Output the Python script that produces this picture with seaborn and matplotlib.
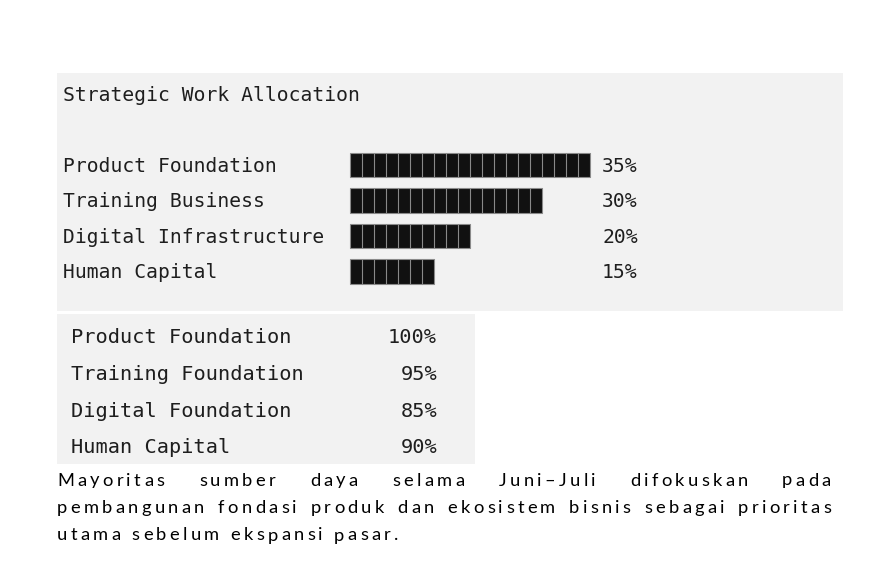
import numpy as np
import pandas as pd
import matplotlib
matplotlib.use("Agg")
import matplotlib.pyplot as plt
import matplotlib.transforms as mtransforms
from matplotlib import font_manager, ft2font
from matplotlib.font_manager import FontProperties
import seaborn as sns

# --- data ---
title = "Strategic Work Allocation"
alloc_labels = ["Product Foundation", "Training Business", "Digital Infrastructure", "Human Capital"]
alloc_pct = [35, 30, 20, 15]
alloc_blocks = [20, 16, 10, 7]   # number of block characters in each text bar

progress_labels = ["Product Foundation", "Training Foundation", "Digital Foundation", "Human Capital"]
progress_pct = [100, 95, 85, 90]

note_lines = ["Mayoritas sumber daya selama Juni\u2013Juli difokuskan pada",
              "pembangunan fondasi produk dan ekosistem bisnis sebagai prioritas",
              "utama sebelum ekspansi pasar."]

W, H = 886, 582
sns.set_style("white")
plt.rcParams["font.family"] = ["DejaVu Sans Mono", "DejaVu Sans"]
fig = plt.figure(figsize=(W / 100, H / 100), dpi=100)
fig.patch.set_facecolor("white")

def box(x0, y0, x1, y1):
    return [x0 / W, 1 - y1 / H, (x1 - x0) / W, (y1 - y0) / H]

def fx(px):
    return px / W

def fy(py):
    return 1 - py / H

def clean(a):
    for s in a.spines.values():
        s.set_visible(False)
    a.set_xticks([])
    a.set_yticks([])
    a.set_xlabel("")
    a.set_ylabel("")

mono = "#1e1e1e"

# --- allocation panel ---
ax = fig.add_axes(box(57, 73, 843, 311))
ax.set_facecolor("#f2f2f2")
df = pd.DataFrame({"task": alloc_labels, "blocks": alloc_blocks})
bw = 0.684
sns.barplot(data=df, x="blocks", y="task", orient="h", color="#111111",
            saturation=1, width=bw, edgecolor="#8a8a8a", linewidth=0.8, ax=ax)
for i, n in enumerate(alloc_blocks):
    ax.vlines(np.arange(1, n), i - bw / 2, i + bw / 2, colors="#8a8a8a", lw=0.8)
cell = 12.0
row = 35.53
ax.set_xlim(-(350 - 57) / cell, (843 - 350) / cell)
ax.set_ylim(3 + (311 - 271.5) / row, -(164.9 - 73) / row)
clean(ax)

tr = mtransforms.blended_transform_factory(fig.transFigure, ax.transData)
fig.text(fx(63), fy(100.7), title, va="baseline", ha="left", size=14.1, color=mono)
for i, (lab, p) in enumerate(zip(alloc_labels, alloc_pct)):
    ax.text(fx(63), i + 6.8 / row, lab, transform=tr, va="baseline", ha="left",
            size=14.1, color=mono)
    ax.text(fx(602), i + 6.8 / row, f"{p}%", transform=tr, va="baseline", ha="left",
            size=14.1, color=mono)

# --- progress panel ---
ax2 = fig.add_axes(box(57, 313.5, 475, 464))
ax2.set_facecolor("#f2f2f2")
row2 = 36.67
ax2.set_ylim(3 + (464 - 453.3) / row2, -(343.3 - 313.5) / row2)
ax2.set_xlim(0, 1)
clean(ax2)
tr2 = mtransforms.blended_transform_factory(fig.transFigure, ax2.transData)
for i, (lab, p) in enumerate(zip(progress_labels, progress_pct)):
    ax2.text(fx(71), i, lab, transform=tr2, va="baseline", ha="left", size=14.55, color=mono)
    ax2.text(fx(437), i, f"{p}%", transform=tr2, va="baseline", ha="right", size=14.55, color=mono)

# --- justified, letter-spaced note ---
psize = 13.2
pfont = FontProperties(family="Lato", size=psize)
ft = ft2font.FT2Font(font_manager.findfont(pfont))
ft.set_size(psize, 100)

def adv(c):
    return ft.load_char(ord(c)).linearHoriAdvance / 65536

x_left, x_right = 57, 831
baselines = [485.5, 513, 540.5]
last = note_lines[-1]
track = (398 - x_left - sum(adv(c) for c in last)) / (len(last) - 1)
for k, line in enumerate(note_lines):
    words = line.split(" ")
    wlen = [sum(adv(c) for c in w) + track * (len(w) - 1) for w in words]
    if k < len(note_lines) - 1:
        gap = (x_right - x_left - sum(wlen)) / (len(words) - 1)
    else:
        gap = adv(" ") + 2 * track
    x = x_left
    for w in words:
        for c in w:
            fig.text(fx(x), fy(baselines[k]), c, fontproperties=pfont,
                     va="baseline", ha="left", color="#000000")
            x += adv(c) + track
        x += gap - track

fig.savefig("out.png", dpi=100)
